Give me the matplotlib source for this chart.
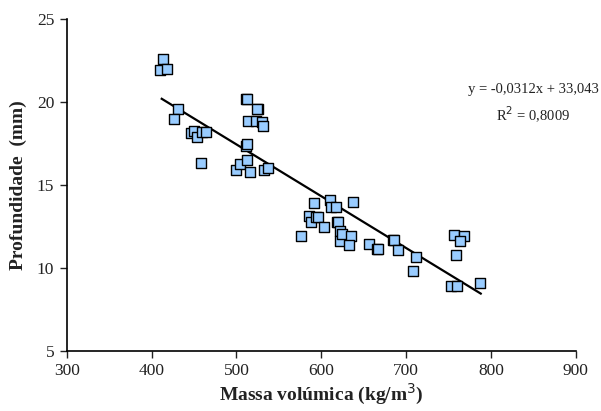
import numpy as np
import matplotlib
matplotlib.use("Agg")
import matplotlib.pyplot as plt

massa = [414, 410, 418, 431, 427, 446, 450, 453, 459, 464, 458,
         499, 504, 511, 513, 526, 524, 514, 523, 530, 531, 511, 513,
         512, 516, 532, 537,
         576, 586, 588, 592, 594, 596, 603, 610, 611, 617, 618, 620,
         622, 622, 624, 638, 635, 633, 656, 666, 667, 684, 686, 691,
         708, 712, 753, 760, 757, 759, 768, 764, 787]
profundidade = [22.6, 21.9, 22.0, 19.6, 19.0, 18.1, 18.25, 17.9, 18.2, 18.2, 16.35,
                15.9, 16.25, 20.2, 20.2, 19.6, 19.6, 18.85, 18.85, 18.8, 18.55, 17.35, 17.45,
                16.5, 15.75, 15.9, 16.0,
                11.95, 13.15, 12.75, 13.9, 13.05, 13.05, 12.45, 14.1, 13.7, 13.7, 12.75, 12.75,
                12.25, 11.6, 12.05, 13.95, 11.95, 11.4, 11.45, 11.15, 11.15, 11.7, 11.7, 11.1,
                9.8, 10.65, 8.9, 8.9, 12.0, 10.8, 11.95, 11.65, 9.1]

slope = -0.0312
intercept = 33.043
r2 = 0.8009
x_fit = [412, 788]

x_ticks = [300, 400, 500, 600, 700, 800, 900]
y_ticks = [5, 10, 15, 20, 25]


def main():
    plt.rcParams['font.family'] = ['Liberation Serif', 'DejaVu Serif']
    fig = plt.figure(figsize=(6.01, 4.11), dpi=100)
    ax = fig.add_axes([0.111, 0.146, 0.847, 0.808])

    xf = np.array(x_fit)
    ax.plot(xf, slope * xf + intercept, color='black', lw=1.6, zorder=2)
    ax.scatter(massa, profundidade, marker='s', s=45, facecolor='#99ccff',
               edgecolor='black', linewidth=1.0, zorder=3)

    ax.set_xlim(300, 900)
    ax.set_ylim(5, 25)
    ax.set_xticks(x_ticks)
    ax.set_yticks(y_ticks)
    ax.tick_params(direction='out', length=5, width=1, labelsize=12.5,
                   colors='#222222', pad=4)
    for s in ['top', 'right']:
        ax.spines[s].set_visible(False)
    for s in ['left', 'bottom']:
        ax.spines[s].set_linewidth(1.2)

    ax.set_xlabel('Massa volúmica (kg/m$^3$)', fontsize=14, fontweight='bold',
                  color='#222222', labelpad=2)
    ax.set_ylabel('Profundidade  (mm)', fontsize=14, fontweight='bold',
                  color='#222222', labelpad=7)

    ax.text(773, 20.72, 'y = -0,0312x + 33,043', fontsize=10.5, ha='left', va='center',
            color='#222222', clip_on=False)
    ax.text(850, 19.2, 'R$^2$ = 0,8009', fontsize=10.5, ha='center', va='center',
            color='#222222')

    fig.savefig('out.png', dpi=100)


if __name__ == "__main__":
    main()
